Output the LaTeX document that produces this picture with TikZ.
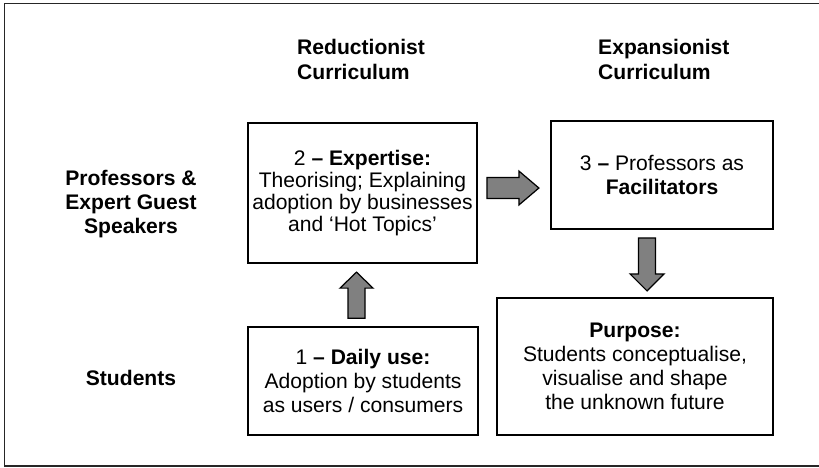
\documentclass[tikz,border=0pt]{standalone}
\usepackage{fontspec}
\setmainfont{Liberation Sans}
\usepackage{tikz}
\usetikzlibrary{positioning, calc}

\begin{document}
\begin{tikzpicture}[
  font=\fontsize{12}{13.6}\selectfont,
  stage/.style={draw, line width=1pt, align=center, inner sep=2pt},
  rowlabel/.style={font=\fontsize{12}{13.6}\selectfont\bfseries, align=center},
  colhead/.style={font=\fontsize{12}{14.2}\selectfont\bfseries, align=left, anchor=west},
  blockarrow/.style={draw, line width=0.7pt, fill=black!50, line join=miter},
]
\useasboundingbox (0, 0) rectangle (16.38, -9.34);

% open frame, right side runs off the page
\draw[black!85, line width=0.9pt]
  (16.38, -0.07) -- (0.09, -0.07) -- (0.09, -9.32) -- (16.38, -9.32);

% column and row headings
\node[colhead] (redhead) at (5.82, -1.19) {Reductionist\\Curriculum};
\node[colhead] (exphead) at (11.84, -1.19) {Expansionist\\Curriculum};
\node[rowlabel] (profs) at (2.62, -4.08) {Professors \&\\Expert Guest\\Speakers};
\node[rowlabel] (studs) at (2.62, -7.56) {Students};

% the four stages
\node[stage, minimum width=4.58cm, minimum height=2.8cm,
      font=\fontsize{12}{12.5}\selectfont] (expertise) at (7.25, -3.86)
  {2 \textbf{– Expertise:}\\Theorising; Explaining\\adoption by businesses\\and `Hot Topics'};
\node[stage, minimum width=4.44cm, minimum height=2.16cm] (facil) at (13.24, -3.5)
  {3 \textbf{–} Professors as\\\textbf{Facilitators}};
\node[stage, minimum width=4.6cm, minimum height=2.16cm] (daily) at (7.26, -7.62)
  {1 \textbf{– Daily use:}\\Adoption by students\\as users / consumers};
\node[stage, minimum width=5.52cm, minimum height=2.74cm] (purpose) at (12.7, -7.33)
  {\textbf{Purpose:}\\Students conceptualise,\\visualise and shape\\the unknown future};

% block arrows, drawn from their tails
\coordinate (uptail)    at ($(daily.north) + (-0.13, 0.16)$);
\coordinate (righttail) at ($(expertise.east) + (0.18, 0.1)$);
\coordinate (downtail)  at ($(facil.south) + (-0.3, -0.16)$);

\draw[blockarrow] (uptail) ++(-0.17, 0) -- ++(0, 0.6) -- ++(-0.16, 0)
  -- ++(0.33, 0.32) -- ++(0.33, -0.32) -- ++(-0.16, 0) -- ++(0, -0.6) -- cycle;
\draw[blockarrow] (righttail) ++(0, 0.21) -- ++(0.64, 0) -- ++(0, 0.13)
  -- ++(0.4, -0.34) -- ++(-0.4, -0.34) -- ++(0, 0.13) -- ++(-0.64, 0) -- cycle;
\draw[blockarrow] (downtail) ++(-0.17, 0) -- ++(0, -0.72) -- ++(-0.17, 0)
  -- ++(0.34, -0.34) -- ++(0.34, 0.34) -- ++(-0.17, 0) -- ++(0, 0.72) -- cycle;

\end{tikzpicture}
\end{document}
